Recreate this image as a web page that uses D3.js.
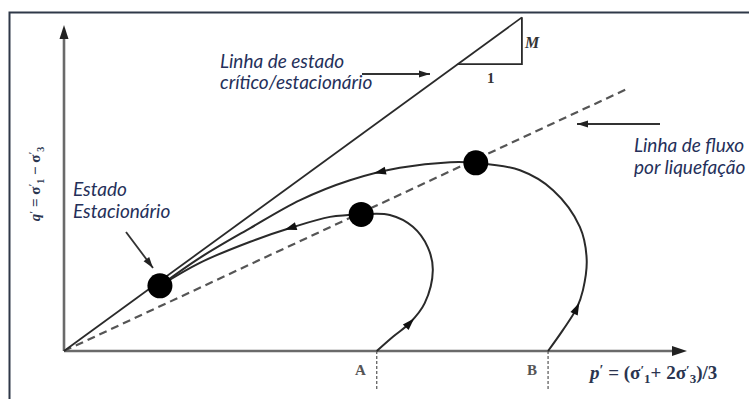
<!DOCTYPE html>
<html>
<head>
<meta charset="utf-8">
<script src="https://cdn.jsdelivr.net/npm/d3@7"></script>
<style>
  html, body { margin: 0; padding: 0; background: #fff; }
  svg { display: block; }
</style>
</head>
<body>
<svg id="chart" width="749" height="399"></svg>
<script>
// Stress-path diagram in q'–p' space (static liquefaction)

// Critical/steady state line slope and extent (p' units)
const cslSlope = 0.731;
const cslEnd = 7.35;
const slopeTriangleStart = 6.32;

// Flow liquefaction line
const flowSlope = 0.467;
const flowEnd = 9.07;

// Undrained stress paths [p', q']
const pathA = [
  [5.02, 0], [5.28, 0.23], [5.55, 0.45], [5.79, 0.77], [5.92, 1.30], [5.84, 1.67],
  [5.60, 2.00], [5.23, 2.19], [4.77, 2.20], [4.27, 2.16], [3.63, 1.98],
  [2.99, 1.76], [2.18, 1.42], [1.54, 1.05]
];
const pathB = [
  [7.77, 0], [8.01, 0.34], [8.23, 0.69], [8.33, 0.98], [8.39, 1.47], [8.28, 2.00],
  [7.85, 2.59], [7.32, 2.91], [6.61, 3.03], [6.20, 3.04], [5.39, 2.95],
  [4.59, 2.75], [3.79, 2.43], [2.99, 1.98], [2.18, 1.50], [1.54, 1.05]
];

// Direction arrows placed on each path near these points
const arrowsA = [[5.55, 0.45], [3.63, 1.98]];
const arrowsB = [[8.23, 0.69], [5.07, 2.87]];

// Peak (instability) points and the steady state point
const keyPoints = [[1.54, 1.05], [4.77, 2.20], [6.61, 3.03]];

// Initial states on the p' axis
const startLabels = ["A", "B"];
const startP = [5.02, 7.77];

const svg = d3.select("#chart");
const x = d3.scaleLinear().domain([0, 10]).range([64, 687]);
const y = d3.scaleLinear().domain([0, 5.25]).range([351, 25]);

const ink = "#2a2a2a";
const textInk = "#25305a";

// frame (left and top edges)
svg.append("path")
  .attr("d", "M9.5,399 V12.5 H749")
  .attr("fill", "none").attr("stroke", "#2f3848").attr("stroke-width", 2);

// axes
const axisG = svg.append("g").attr("stroke", "#6a6a6a").attr("stroke-width", 2.6);
axisG.append("line").attr("x1", x(0)).attr("y1", y(0)).attr("x2", x(0)).attr("y2", y(5.25) + 12);
axisG.append("line").attr("x1", x(0)).attr("y1", y(0)).attr("x2", x(10) - 12).attr("y2", y(0));
svg.append("path")
  .attr("d", `M${x(0)},${y(5.25)} l-4.5,14 h9 Z`)
  .attr("fill", "#222");
svg.append("path")
  .attr("d", `M${x(10)},${y(0)} l-15,-5 v10 Z`)
  .attr("fill", "#222");

// vertical dotted markers under A and B
svg.append("g").selectAll("line").data(startP).join("line")
  .attr("x1", d => x(d)).attr("x2", d => x(d))
  .attr("y1", y(0)).attr("y2", y(-0.63))
  .attr("stroke", "#555").attr("stroke-width", 1.2).attr("stroke-dasharray", "3,2");

// flow liquefaction line (dashed)
svg.append("line")
  .attr("x1", x(0)).attr("y1", y(0))
  .attr("x2", x(flowEnd)).attr("y2", y(flowSlope * flowEnd))
  .attr("stroke", "#555").attr("stroke-width", 2.2).attr("stroke-dasharray", "8,5");

// critical state line
svg.append("line")
  .attr("x1", x(0)).attr("y1", y(0))
  .attr("x2", x(cslEnd)).attr("y2", y(cslSlope * cslEnd))
  .attr("stroke", ink).attr("stroke-width", 1.8);

// slope triangle
svg.append("path")
  .attr("d", `M${x(slopeTriangleStart)},${y(cslSlope * slopeTriangleStart)} H${x(cslEnd)} V${y(cslSlope * cslEnd)}`)
  .attr("fill", "none").attr("stroke", ink).attr("stroke-width", 1.8);

// stress paths
const line = d3.line().x(d => x(d[0])).y(d => y(d[1])).curve(d3.curveCatmullRom.alpha(0.5));

function drawPath(pts, arrows) {
  const p = svg.append("path")
    .attr("d", line(pts))
    .attr("fill", "none").attr("stroke", ink).attr("stroke-width", 2);
  const node = p.node();
  const total = node.getTotalLength();
  arrows.forEach(a => {
    const tx = x(a[0]), ty = y(a[1]);
    let best = 0, bestD = Infinity;
    for (let L = 0; L <= total; L += 0.5) {
      const pt = node.getPointAtLength(L);
      const dd = (pt.x - tx) ** 2 + (pt.y - ty) ** 2;
      if (dd < bestD) { bestD = dd; best = L; }
    }
    const p0 = node.getPointAtLength(Math.max(0, best - 2));
    const p1 = node.getPointAtLength(Math.min(total, best + 2));
    const ang = Math.atan2(p1.y - p0.y, p1.x - p0.x) * 180 / Math.PI;
    const c = node.getPointAtLength(best);
    svg.append("path")
      .attr("d", "M6,0 L-6,-4 L-6,4 Z")
      .attr("fill", "#111")
      .attr("transform", `translate(${c.x},${c.y}) rotate(${ang})`);
  });
}
drawPath(pathA, arrowsA);
drawPath(pathB, arrowsB);

// key points
svg.append("g").selectAll("circle").data(keyPoints).join("circle")
  .attr("cx", d => x(d[0])).attr("cy", d => y(d[1])).attr("r", 12.5)
  .attr("fill", "#000");

// annotation arrows
function arrowLine(x1, y1, x2, y2) {
  svg.append("line").attr("x1", x1).attr("y1", y1).attr("x2", x2).attr("y2", y2)
    .attr("stroke", "#333").attr("stroke-width", 1.8);
  const ang = Math.atan2(y2 - y1, x2 - x1) * 180 / Math.PI;
  svg.append("path").attr("d", "M0,0 L-11,-3.5 L-11,3.5 Z").attr("fill", "#222")
    .attr("transform", `translate(${x2},${y2}) rotate(${ang})`);
}
arrowLine(362, 74, 430, 74);
arrowLine(660, 124, 577, 124);
arrowLine(126, 232, 153, 268);

// annotation texts
const note = svg.append("g")
  .attr("font-family", "Lato, 'Noto Sans', sans-serif")
  .attr("font-style", "italic").attr("font-size", 19).attr("fill", textInk);
note.append("text").attr("x", 220).attr("y", 68).text("Linha de estado");
note.append("text").attr("x", 220).attr("y", 89).text("crítico/estacionário");
note.append("text").attr("x", 634).attr("y", 152).text("Linha de fluxo");
note.append("text").attr("x", 634).attr("y", 174).text("por liquefação");
note.append("text").attr("x", 73).attr("y", 196).text("Estado");
note.append("text").attr("x", 73).attr("y", 218).text("Estacionário");

// slope labels
const serif = "'Liberation Serif', 'DejaVu Serif', serif";
svg.append("text").attr("x", 525).attr("y", 48)
  .attr("font-family", serif).attr("font-style", "italic").attr("font-weight", "bold")
  .attr("font-size", 16).attr("fill", "#333").text("M");
svg.append("text").attr("x", 487).attr("y", 83)
  .attr("font-family", serif).attr("font-weight", "bold")
  .attr("font-size", 15).attr("fill", "#333").text("1");

// initial state labels
svg.append("g").selectAll("text").data(startP).join("text")
  .attr("x", d => x(d) - 11).attr("y", 375)
  .attr("text-anchor", "end")
  .attr("font-family", serif).attr("font-weight", "bold")
  .attr("font-size", 15).attr("fill", "#555")
  .text((d, i) => startLabels[i]);

// axis titles
const xt = svg.append("text").attr("x", 590).attr("y", 379)
  .attr("font-family", serif).attr("font-weight", "bold")
  .attr("font-size", 19).attr("fill", "#2b3550");
xt.append("tspan").attr("font-style", "italic").text("p");
xt.append("tspan").attr("dy", -4).attr("font-size", 14).text("′");
xt.append("tspan").attr("dy", 4).text(" = (σ");
xt.append("tspan").attr("dy", -5).attr("font-size", 13).text("′");
xt.append("tspan").attr("dy", 9).attr("font-size", 13).text("1");
xt.append("tspan").attr("dy", -4).text("+ 2σ");
xt.append("tspan").attr("dy", -5).attr("font-size", 13).text("′");
xt.append("tspan").attr("dy", 9).attr("font-size", 13).text("3");
xt.append("tspan").attr("dy", -4).text(")/3");

const yt = svg.append("text")
  .attr("transform", "translate(40,184) rotate(-90)")
  .attr("text-anchor", "middle")
  .attr("font-family", serif).attr("font-weight", "bold")
  .attr("font-size", 15).attr("fill", "#2b3550");
yt.append("tspan").attr("font-style", "italic").text("q");
yt.append("tspan").attr("dy", -3).attr("font-size", 11).text("′");
yt.append("tspan").attr("dy", 3).text(" = σ");
yt.append("tspan").attr("dy", -4).attr("font-size", 10).text("′");
yt.append("tspan").attr("dy", 8).attr("font-size", 10).text("1");
yt.append("tspan").attr("dy", -4).text(" − σ");
yt.append("tspan").attr("dy", -4).attr("font-size", 10).text("′");
yt.append("tspan").attr("dy", 8).attr("font-size", 10).text("3");
</script>
</body>
</html>
